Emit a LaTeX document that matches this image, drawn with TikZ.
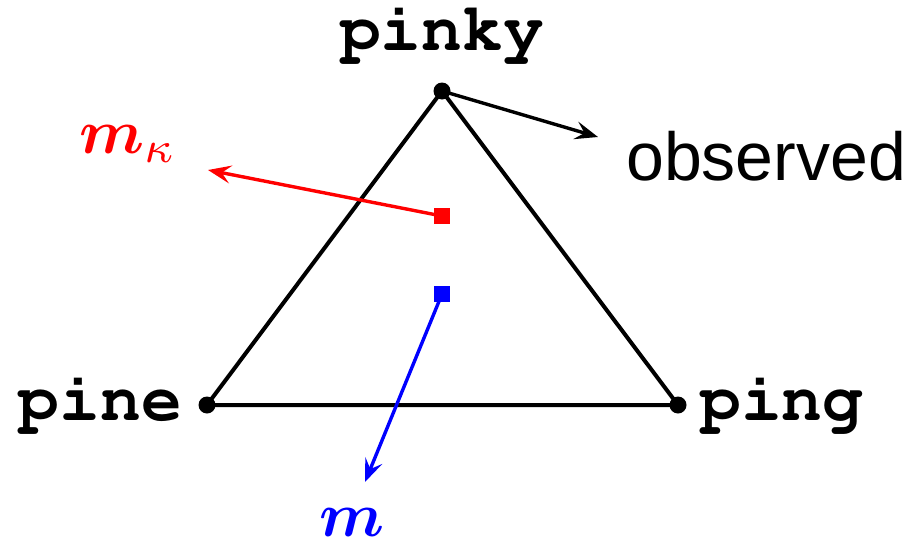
\documentclass[tikz,border=0pt]{standalone}
\usepackage[T1,TU]{fontenc}
\usepackage{fontspec}
\usepackage{bm}
\newfontfamily\obsfont{Liberation Sans}
\newcommand{\courb}{\fontencoding{T1}\fontfamily{pcr}\fontseries{b}\selectfont}
\usetikzlibrary{arrows.meta}
\tikzset{
  vdot/.style={circle,fill=black,inner sep=0pt,minimum size=17pt},
  sq/.style={rectangle,inner sep=0pt,minimum size=16pt},
  lbl/.style={font=\courb\fontsize{68}{70}\selectfont,inner sep=0pt},
  edge/.style={line width=4pt},
  arr/.style={line width=3.4pt,-{Stealth[length=23pt,width=18pt,inset=9pt]}},
  mlbl/.style={inner sep=0pt,anchor=base,scale=6.3},
}
\begin{document}
\begin{tikzpicture}[x=1pt,y=-1pt]
\useasboundingbox (0,0) rectangle (911,541);
\node[vdot] (pinky) at (442,91) {};
\node[vdot] (pine) at (207,405) {};
\node[vdot] (ping) at (678,405) {};
\draw[edge] (pinky.center) -- (pine.center) -- (ping.center) -- cycle;
\node[sq,fill=red] (mk) at (442,216) {};
\node[sq,fill=blue] (mm) at (442,294) {};
\node[lbl,anchor=base] (pinkyl) at (442,50) {pinky};
\node[lbl,anchor=base east] (pinel) at (182,420) {pine};
\node[lbl,anchor=base west] (pingl) at (700,420) {ping};
\node[inner sep=0pt,anchor=base west,font=\obsfont\fontsize{68}{70}\selectfont] (obs) at (626,180) {observed};
\coordinate (obsend) at (598,137);
\coordinate (mkend) at (208,170);
\coordinate (mmend) at (365,482);
\draw[arr] (pinky.center) -- (obsend);
\draw[arr,red] (mk.center) -- (mkend);
\draw[arr,blue] (mm.center) -- (mmend);
\node[mlbl,red] (mkl) at (128,153) {$\bm{m}_{\kappa}$};
\node[mlbl,blue] (mml) at (352,536) {$\bm{m}$};
\end{tikzpicture}
\end{document}
